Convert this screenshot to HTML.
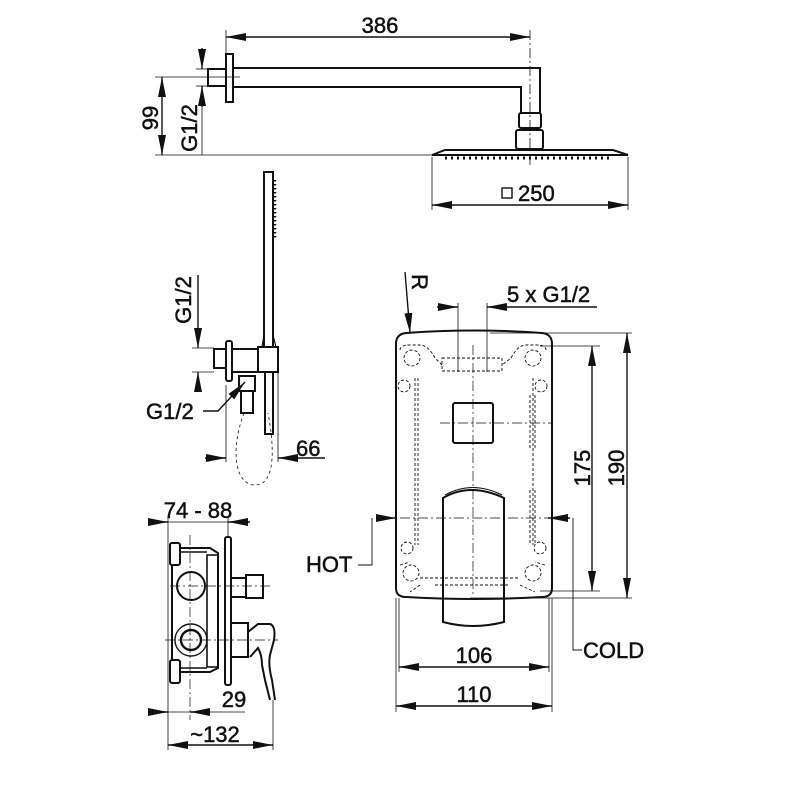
<!DOCTYPE html>
<html><head><meta charset="utf-8"><style>
html,body{margin:0;padding:0;background:#fff;}
svg{display:block;}
text{font-family:"Liberation Sans",Arial,sans-serif;font-size:22px;fill:#111;stroke:#111;stroke-width:0.5;}
</style></head><body>
<svg width="800" height="800" viewBox="0 0 800 800" xmlns="http://www.w3.org/2000/svg">
<defs>
<marker id="a" viewBox="0 0 20 8" refX="20" refY="4" markerWidth="20" markerHeight="8" markerUnits="userSpaceOnUse" orient="auto-start-reverse"><path d="M0,0 L20,4 L0,8z" fill="#111"/></marker>
</defs>
<g stroke="#111" stroke-width="1.4" fill="none">
<!-- TOP: shower arm -->
<line x1="226" y1="37" x2="530" y2="37" marker-start="url(#a)" marker-end="url(#a)"/>
<line x1="226" y1="30" x2="226" y2="55" stroke-width="0.8"/>
<line x1="530" y1="30" x2="530" y2="165" stroke-width="0.8" stroke-dasharray="10,3,2,3"/>
<rect x="226" y="54" width="7" height="48" stroke-width="2"/>
<rect x="208" y="69" width="18" height="17" stroke-width="2"/>
<path d="M233,68 H540 V113 M233,87 H521 V113" stroke-width="2"/>
<rect x="519" y="113" width="22" height="15" rx="2" stroke-width="2"/>
<rect x="516" y="130" width="27" height="19" rx="2" stroke-width="2"/>
<path d="M432,155 L445,150 H613 L628,155 Z" stroke-width="2" fill="#fff"/>
<line x1="445" y1="158" x2="610" y2="158" stroke-width="3" stroke-dasharray="2,4"/>
<line x1="155" y1="77" x2="240" y2="77" stroke-width="0.8"/>
<line x1="155" y1="155" x2="432" y2="155" stroke-width="0.8"/>
<line x1="162" y1="77" x2="162" y2="155" marker-start="url(#a)" marker-end="url(#a)"/>
<line x1="202" y1="48" x2="202" y2="69" marker-end="url(#a)"/>
<line x1="202" y1="107" x2="202" y2="86" marker-end="url(#a)"/>
<line x1="202" y1="86" x2="202" y2="155" stroke-width="0.8"/>
<line x1="196" y1="69" x2="208" y2="69" stroke-width="0.8"/>
<line x1="196" y1="86" x2="208" y2="86" stroke-width="0.8"/>
<line x1="432" y1="157" x2="432" y2="210" stroke-width="0.8"/>
<line x1="628" y1="157" x2="628" y2="210" stroke-width="0.8"/>
<line x1="432" y1="205" x2="628" y2="205" marker-start="url(#a)" marker-end="url(#a)"/>
<rect x="502" y="188" width="10" height="10" stroke-width="1.4"/>

<!-- HAND SHOWER -->
<rect x="264" y="172" width="9" height="175" stroke-width="2"/>
<line x1="275" y1="180" x2="275" y2="240" stroke-width="2.5" stroke-dasharray="1.5,2.5"/>
<path d="M262,347 L264,335 M276,347 L273,335" stroke-width="1.2"/>
<rect x="258" y="347" width="20" height="25" stroke-width="2"/>
<rect x="265" y="372" width="8" height="62" stroke-width="2"/>
<rect x="226" y="341" width="6" height="40" rx="2" stroke-width="2"/>
<rect x="214" y="349" width="12" height="19" stroke-width="2"/>
<line x1="232" y1="349" x2="258" y2="349" stroke-width="2"/>
<line x1="232" y1="372" x2="258" y2="372" stroke-width="2"/>
<rect x="239" y="376" width="16" height="15" stroke-width="2"/>
<rect x="241" y="391" width="12" height="22" stroke-width="2"/>
<path d="M244,413 C230,450 235,485 255,485 C275,485 275,450 268,413" stroke-width="0.8" stroke-dasharray="3,3"/>
<line x1="192" y1="348" x2="214" y2="348" stroke-width="0.8"/>
<line x1="192" y1="372" x2="214" y2="372" stroke-width="0.8"/>
<line x1="198" y1="275" x2="198" y2="348" marker-end="url(#a)"/>
<line x1="198" y1="392" x2="198" y2="372" marker-end="url(#a)"/>
<path d="M203,411 H218 L245,382" marker-end="url(#a)"/>
<line x1="226" y1="385" x2="226" y2="462" stroke-width="0.8"/>
<line x1="278" y1="372" x2="278" y2="462" stroke-width="0.8"/>
<line x1="205" y1="458" x2="226" y2="458" marker-end="url(#a)"/>
<line x1="325" y1="458" x2="278" y2="458" marker-end="url(#a)"/>

<!-- SIDE VIEW -->
<line x1="148" y1="522" x2="168" y2="522" marker-end="url(#a)"/>
<line x1="250" y1="522" x2="228" y2="522" marker-end="url(#a)"/>
<line x1="168" y1="522" x2="228" y2="522" stroke-width="0.8"/>
<line x1="168" y1="518" x2="168" y2="750" stroke-width="0.8"/>
<line x1="228" y1="518" x2="228" y2="537" stroke-width="0.8"/>
<rect x="225" y="537" width="6" height="148" rx="2" stroke-width="2"/>
<path d="M180,548 H210 L218,553 V668 L210,672 H180 M172,565 V660" stroke-width="2"/>
<rect x="207" y="555" width="11" height="112" stroke-width="1.6"/>
<rect x="170" y="543" width="10" height="22" rx="2" stroke-width="2"/>
<rect x="170" y="660" width="10" height="23" rx="2" stroke-width="2"/>
<line x1="180" y1="552" x2="207" y2="552" stroke-width="1.6"/>
<line x1="180" y1="668" x2="207" y2="668" stroke-width="1.6"/>
<circle cx="191" cy="586" r="14" stroke-width="2"/>
<circle cx="191" cy="640" r="16" stroke-width="1.4"/>
<circle cx="191" cy="640" r="10" stroke-width="2.4"/>
<line x1="190" y1="535" x2="190" y2="720" stroke-width="0.7" stroke-dasharray="10,3,2,3"/>
<line x1="170" y1="586" x2="270" y2="586" stroke-width="0.7" stroke-dasharray="10,3,2,3"/>
<line x1="165" y1="640" x2="278" y2="640" stroke-width="0.7" stroke-dasharray="10,3,2,3"/>
<rect x="231" y="578" width="15" height="19" stroke-width="2"/>
<rect x="246" y="575" width="17" height="23" stroke-width="2"/>
<rect x="231" y="623" width="17" height="34" stroke-width="2"/>
<path d="M248,632 L258,624 H270 Q276,626 274,640 L270,655 Q268,665 272,680 L275,700 M250,657 L258,648 Q262,655 262,665 L265,680 L270,700" stroke-width="2"/>
<line x1="273" y1="700" x2="273" y2="750" stroke-width="0.8"/>
<line x1="150" y1="712" x2="168" y2="712" marker-end="url(#a)"/>
<line x1="210" y1="712" x2="190" y2="712" marker-end="url(#a)"/>
<line x1="168" y1="712" x2="245" y2="712" stroke-width="0.8"/>
<line x1="168" y1="745" x2="273" y2="745" marker-start="url(#a)" marker-end="url(#a)"/>

<!-- FRONT VIEW -->
<path d="M406,333 Q474,328 542,333 Q552,334 552,344 V588 Q552,597 542,597 Q474,601 406,597 Q396,597 396,588 V344 Q396,334 406,333 Z" stroke-width="2"/>
<line x1="405" y1="272" x2="410" y2="333" marker-end="url(#a)"/>
<line x1="437" y1="307" x2="458" y2="307" marker-end="url(#a)"/>
<line x1="597" y1="307" x2="487" y2="307" marker-end="url(#a)"/>
<line x1="458" y1="303" x2="458" y2="372" stroke-width="0.8"/>
<line x1="487" y1="303" x2="487" y2="372" stroke-width="0.8"/>
<g stroke-width="0.9" stroke-dasharray="3,2">
<rect x="442" y="358" width="60" height="13"/>
<path d="M400,350 Q400,345 410,345 L420,345 Q428,345 435,358 L442,365 M546,350 Q546,345 536,345 L526,345 Q518,345 511,358 L502,365"/>
<circle cx="412" cy="358" r="8"/><circle cx="533" cy="358" r="8"/>
<circle cx="404" cy="386" r="6"/><circle cx="541" cy="386" r="6"/>
<circle cx="411" cy="573" r="8"/><circle cx="533" cy="573" r="8"/>
<circle cx="407" cy="548" r="6"/><circle cx="540" cy="548" r="6"/>
<path d="M415,378 V545 M533,378 V545 M418,378 V545 M530,395 V450 M535,395 V450 M530,490 V545 M535,490 V545 M420,578 L435,578 H505 L520,578 M435,585 H510 M420,585 L410,592 M520,585 L535,592 M400,565 L410,562 M545,565 L535,562"/>
</g>
<rect x="453" y="403" width="40" height="40" rx="2" stroke-width="2"/>
<path d="M443,498 Q470,482 504,498 V622 Q473,630 443,622 Z" stroke-width="2"/>
<path d="M445,495 Q472,480 502,495" stroke-width="1"/>
<line x1="473" y1="345" x2="473" y2="595" stroke-width="0.7" stroke-dasharray="10,3,2,3"/>
<line x1="440" y1="423" x2="552" y2="423" stroke-width="0.7" stroke-dasharray="10,3,2,3"/>
<line x1="400" y1="518" x2="548" y2="518" stroke-width="0.7" stroke-dasharray="10,3,2,3"/>
<line x1="490" y1="333" x2="632" y2="333" stroke-width="0.8"/>
<line x1="540" y1="346" x2="600" y2="346" stroke-width="0.8"/>
<line x1="540" y1="591" x2="600" y2="591" stroke-width="0.8"/>
<line x1="470" y1="598" x2="632" y2="598" stroke-width="0.8"/>
<line x1="592" y1="346" x2="592" y2="591" marker-start="url(#a)" marker-end="url(#a)"/>
<line x1="627" y1="333" x2="627" y2="598" marker-start="url(#a)" marker-end="url(#a)"/>
<line x1="376" y1="518" x2="396" y2="518" marker-end="url(#a)"/>
<line x1="570" y1="518" x2="548" y2="518" marker-end="url(#a)"/>
<path d="M358,565 H372 V518" stroke-width="0.9"/>
<path d="M573,518 V650 H582" stroke-width="0.9"/>
<line x1="396" y1="598" x2="396" y2="712" stroke-width="0.8"/>
<line x1="399" y1="598" x2="399" y2="672" stroke-width="0.8"/>
<line x1="549" y1="598" x2="549" y2="672" stroke-width="0.8"/>
<line x1="552" y1="598" x2="552" y2="712" stroke-width="0.8"/>
<line x1="399" y1="667" x2="549" y2="667" marker-start="url(#a)" marker-end="url(#a)"/>
<line x1="396" y1="706" x2="552" y2="706" marker-start="url(#a)" marker-end="url(#a)"/>
</g>
<g>
<text x="380" y="33" text-anchor="middle">386</text>
<text x="518" y="201">250</text>
<text transform="translate(158,118) rotate(-90)" text-anchor="middle">99</text>
<text transform="translate(197,128) rotate(-90)" text-anchor="middle">G1/2</text>
<text transform="translate(191,300) rotate(-90)" text-anchor="middle">G1/2</text>
<text x="146" y="419">G1/2</text>
<text x="296" y="456">66</text>
<text x="198" y="518" text-anchor="middle">74 - 88</text>
<text x="234" y="707" text-anchor="middle">29</text>
<text x="215" y="742" text-anchor="middle">~132</text>
<text transform="translate(412,282) rotate(90)" text-anchor="middle">R</text>
<text x="507" y="302">5 x G1/2</text>
<text transform="translate(590,468) rotate(-90)" text-anchor="middle">175</text>
<text transform="translate(624,468) rotate(-90)" text-anchor="middle">190</text>
<text x="306" y="572">HOT</text>
<text x="583" y="658">COLD</text>
<text x="474" y="663" text-anchor="middle">106</text>
<text x="474" y="702" text-anchor="middle">110</text>
</g>
</svg>
</body></html>
